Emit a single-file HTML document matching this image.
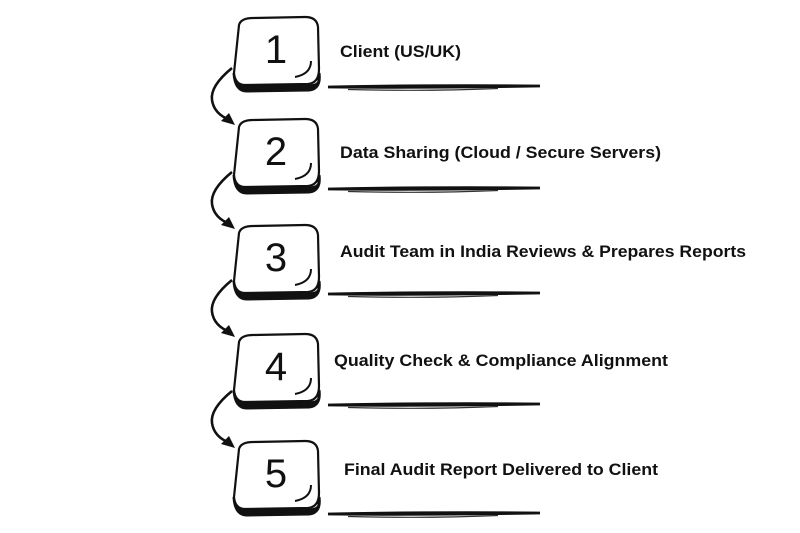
<!DOCTYPE html>
<html><head><meta charset="utf-8"><style>
html,body{margin:0;padding:0;background:#fff;}
svg{display:block}
text{font-family:"Liberation Sans",sans-serif;}
</style></head><body>
<svg width="800" height="533" viewBox="0 0 800 533" xmlns="http://www.w3.org/2000/svg">
<defs>
<g id="box">
  <path d="M1,56 Q2,74 14,74 L76,73 Q88,72 86,56 L86,64 Q85,69 74,69 L12,69 Q3,69 1,56Z" fill="#111" stroke="#111" stroke-width="3"/>
  <path d="M6,8 Q8,1 20,1 L72,0 Q84,0 85,10 L86,52 Q86,66 75,67 L12,68 Q2,68 1,56 Z" fill="#fff" stroke="#111" stroke-width="2.2"/>
  <path d="M78,44 Q78,57 62,60" fill="none" stroke="#111" stroke-width="2"/>
</g>
<g id="line">
  <path d="M0,0 Q100,-2 212,-1 Q100,1 0,0Z" fill="none" stroke="#111" stroke-width="2.8"/>
  <path d="M20,2.5 Q100,4.5 170,1.5" fill="none" stroke="#333" stroke-width="1.2"/>
</g>
<g id="arr">
  <path d="M24,0 Q2,18 4,32 Q6,46 22,52" fill="none" stroke="#111" stroke-width="2.6"/>
  <path d="M27,57 L13,53 L21,45 Z" fill="#111"/>
</g>
</defs>
<use href="#box" x="233" y="17"/>
<use href="#box" x="233" y="119"/>
<use href="#box" x="233" y="225"/>
<use href="#box" x="233" y="334"/>
<use href="#box" x="233" y="441"/>
<g font-size="40" text-anchor="middle" fill="#111" font-family="Liberation Sans">
<text x="276" y="63">1</text>
<text x="276" y="165">2</text>
<text x="276" y="271">3</text>
<text x="276" y="380">4</text>
<text x="276" y="487">5</text>
</g>
<use href="#line" x="328" y="87"/>
<use href="#line" x="328" y="189"/>
<use href="#line" x="328" y="294"/>
<use href="#line" x="328" y="405"/>
<use href="#line" x="328" y="514"/>
<use href="#arr" x="208" y="68"/>
<use href="#arr" x="208" y="172"/>
<use href="#arr" x="208" y="280"/>
<use href="#arr" x="208" y="391"/>
<g font-size="17" font-weight="bold" fill="#111">
<text x="340" y="57" textLength="121" lengthAdjust="spacingAndGlyphs">Client (US/UK)</text>
<text x="340" y="158" textLength="321" lengthAdjust="spacingAndGlyphs">Data Sharing (Cloud / Secure Servers)</text>
<text x="340" y="257" textLength="406" lengthAdjust="spacingAndGlyphs">Audit Team in India Reviews &amp; Prepares Reports</text>
<text x="334" y="366" textLength="334" lengthAdjust="spacingAndGlyphs">Quality Check &amp; Compliance Alignment</text>
<text x="344" y="475" textLength="314" lengthAdjust="spacingAndGlyphs">Final Audit Report Delivered to Client</text>
</g>
</svg>
</body></html>
